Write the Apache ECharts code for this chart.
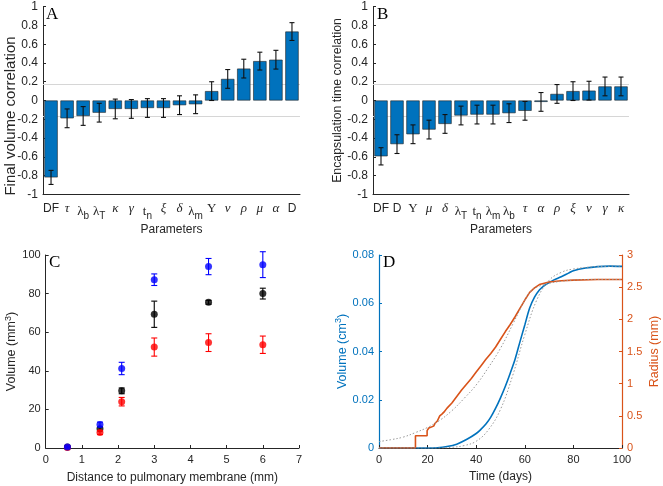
<!DOCTYPE html>
<html>
<head>
<meta charset="utf-8">
<script src="https://cdn.jsdelivr.net/npm/echarts@6/dist/echarts.min.js"></script>
<style>html,body{margin:0;padding:0;background:#fff}#c{width:663px;height:486px}</style>
</head>
<body>
<div id="c"></div>
<script>
// ---- Panel A ----
const catsA = ['DF','τ','λ_b','λ_T','κ','γ','t_n','ξ','δ','λ_m','Υ','ν','ρ','μ','α','D'];
const valsA = [-0.82,-0.19,-0.165,-0.13,-0.09,-0.09,-0.08,-0.08,-0.05,-0.04,0.10,0.23,0.34,0.42,0.435,0.735];
const errA  = [0.075,0.10,0.10,0.10,0.105,0.10,0.10,0.10,0.10,0.10,0.10,0.10,0.10,0.095,0.10,0.095];
// ---- Panel B ----
const catsB = ['DF','D','Υ','μ','δ','λ_T','t_n','λ_m','λ_b','τ','α','ρ','ξ','ν','γ','κ'];
const valsB = [-0.595,-0.465,-0.36,-0.31,-0.25,-0.16,-0.15,-0.15,-0.135,-0.11,-0.015,0.07,0.10,0.105,0.15,0.15];
const errB  = [0.092,0.10,0.10,0.10,0.10,0.10,0.10,0.10,0.10,0.10,0.10,0.10,0.10,0.10,0.10,0.10];
const threshold = 0.165;
// ---- Panel C ----
const distC = [0.6,1.5,2.1,3,4.5,6];
const blueC = [0.5,12.2,41.2,87.2,94.0,95.0];
const blueErrC = [0.5,1.2,3.2,3.0,4.2,6.7];
const blackC = [0.5,10.0,29.6,69.3,75.5,80.0];
const blackErrC = [0.3,1.0,1.5,6.8,1.0,2.8];
const redC = [0.3,8.0,24.0,52.3,54.6,53.5];
const redErrC = [0.3,1.0,2.2,4.7,4.6,4.5];
// ---- Panel D ----
const volDays = [0,20,24,28,32,36,40,42,44,46,48,50,52,54,56,58,60,62,64,66,68,70,72,75,78,80,85,90,95,100];
const volVals = [0,0,0.0001,0.0006,0.0016,0.0035,0.006,0.0078,0.0099,0.0128,0.0165,0.0208,0.0256,0.031,0.0368,0.044,0.051,0.058,0.0625,0.0655,0.0673,0.0686,0.0697,0.071,0.0725,0.0735,0.0746,0.0752,0.0754,0.0753];
const radDays = [0,15,15,19.8,19.8,20.5,21,22.5,23,24,25,26,27,28,30,32,34,36,38,40,42,44,46,48,50,52,54,56,58,60,62,64,66,68,70,75,80,90,100];
const radVals = [0,0,0.19,0.19,0.27,0.31,0.33,0.34,0.38,0.42,0.50,0.53,0.57,0.62,0.70,0.80,0.90,0.99,1.08,1.18,1.28,1.38,1.47,1.57,1.69,1.81,1.92,2.04,2.17,2.30,2.42,2.49,2.54,2.56,2.58,2.60,2.61,2.62,2.62];
const volFitDays = [0,25,30,35,40,45,50,55,60,65,70,75,80,90,100];
const volFitVals = [0,0,0.0003,0.001,0.0028,0.0075,0.016,0.030,0.047,0.0615,0.0695,0.0728,0.0742,0.0752,0.0754];
const radFitDays = [0,5,10,15,20,25,30,35,40,45,50,55,58,60,62,65,70,75,80,90,100];
const radFitVals = [0.10,0.13,0.17,0.24,0.32,0.43,0.58,0.77,0.98,1.25,1.55,1.92,2.15,2.30,2.42,2.50,2.56,2.59,2.61,2.62,2.62];

const TXT = '#262626';
const SANS = 'Liberation Sans';
const BLUE = '#0072BD', ORANGE = '#D95319';

function catFmt(s){
  if (s.indexOf('_') >= 0){ const p = s.split('_'); return '{l|' + p[0] + '}{s|' + p[1] + '}'; }
  if ('τκγξδνρμα'.indexOf(s) >= 0) return '{g|' + s + '}';
  if (s === 'Υ') return '{u|' + s + '}';
  return '{n|' + s + '}';
}
const catRich = {
  n: {fontFamily: SANS, fontSize: 12, color: TXT},
  l: {fontFamily: 'Liberation Serif', fontSize: 13, color: TXT},
  g: {fontFamily: 'Liberation Serif', fontStyle: 'italic', fontSize: 13, color: TXT},
  u: {fontFamily: 'Liberation Serif', fontSize: 13, color: TXT},
  s: {fontFamily: SANS, fontSize: 10, color: TXT, padding: [9,0,0,0]}
};

function tickLbl(color, size){ return {fontFamily: SANS, fontSize: size || 11, color: color || TXT, margin: 5}; }
function nameStyle(color, size){ return {fontFamily: SANS, fontSize: size || 12, color: color || TXT}; }

function catAxis(grid, cats){
  return {type: 'category', gridIndex: grid, data: cats, position: 'bottom',
    name: 'Parameters', nameLocation: 'middle', nameGap: 29, nameTextStyle: nameStyle(TXT, 12),
    axisLine: {onZero: false, lineStyle: {color: TXT, width: 1}},
    axisTick: {inside: true, length: 3, alignWithLabel: true, lineStyle: {color: TXT}},
    axisLabel: {interval: 0, margin: 8, formatter: catFmt, rich: catRich},
    splitLine: {show: false}};
}
function corrAxis(grid, name, size, gap){
  return {type: 'value', gridIndex: grid, min: -1, max: 1, interval: 0.2,
    name: name, nameLocation: 'middle', nameGap: gap, nameTextStyle: nameStyle(TXT, size),
    axisLine: {show: true, lineStyle: {color: TXT}},
    axisTick: {show: true, inside: true, length: 3, lineStyle: {color: TXT}},
    axisLabel: tickLbl(TXT, 12), splitLine: {show: false}};
}
function barSeries(xi, yi, vals){
  return {type: 'bar', xAxisIndex: xi, yAxisIndex: yi, data: vals, barWidth: '83%',
    itemStyle: {color: BLUE, borderColor: '#222', borderWidth: 0.6}, z: 2,
    markLine: {silent: true, symbol: 'none', z: 1, label: {show: false},
      lineStyle: {color: '#d6d6d6', type: 'solid', width: 1},
      data: [{yAxis: threshold}, {yAxis: -threshold}]}};
}
function errBarData(vals, errs){ return vals.map((v,i) => [i, v - errs[i], v + errs[i]]); }
function errSeries(xi, yi, data, color, cap, z){
  return {type: 'custom', xAxisIndex: xi, yAxisIndex: yi, data: data, z: z || 3, silent: true,
    renderItem: function(params, api){
      const x = api.value(0);
      const lo = api.coord([x, api.value(1)]);
      const hi = api.coord([x, api.value(2)]);
      const st = {stroke: color, lineWidth: 1.1};
      return {type: 'group', children: [
        {type: 'line', shape: {x1: lo[0], y1: lo[1], x2: hi[0], y2: hi[1]}, style: st},
        {type: 'line', shape: {x1: lo[0]-cap, y1: lo[1], x2: lo[0]+cap, y2: lo[1]}, style: st},
        {type: 'line', shape: {x1: hi[0]-cap, y1: hi[1], x2: hi[0]+cap, y2: hi[1]}, style: st}
      ]};
    }};
}
function xyErr(xs, ys, es){ return xs.map((x,i) => [x, ys[i]-es[i], ys[i]+es[i]]); }
function pairs(xs, ys){ return xs.map((x,i) => [x, ys[i]]); }
const supRich = (color) => ({sup: {fontFamily: SANS, fontSize: 9, color: color, padding: [0,0,7,0]}});

const option = {
  animation: false,
  backgroundColor: '#fff',
  grid: [
    {left: 43, top: 6.7, width: 257, height: 187.6},
    {left: 373, top: 6.7, width: 256, height: 187.6},
    {left: 45.7, top: 255, width: 253.3, height: 193},
    {left: 379, top: 255, width: 243, height: 193}
  ],
  xAxis: [
    catAxis(0, catsA),
    catAxis(1, catsB),
    {type: 'value', gridIndex: 2, min: 0, max: 7, interval: 1,
      name: 'Distance to pulmonary membrane (mm)', nameLocation: 'middle', nameGap: 24, nameTextStyle: nameStyle(),
      axisLine: {onZero: false, lineStyle: {color: TXT}},
      axisTick: {inside: true, length: 3, lineStyle: {color: TXT}},
      axisLabel: Object.assign(tickLbl(), {margin: 6}), splitLine: {show: false}},
    {type: 'value', gridIndex: 3, min: 0, max: 100, interval: 20,
      name: 'Time (days)', nameLocation: 'middle', nameGap: 23, nameTextStyle: nameStyle(),
      axisLine: {onZero: false, lineStyle: {color: TXT}},
      axisTick: {inside: true, length: 3, lineStyle: {color: TXT}},
      axisLabel: Object.assign(tickLbl(), {margin: 6}), splitLine: {show: false}}
  ],
  yAxis: [
    corrAxis(0, '', 14.5, 24),
    corrAxis(1, 'Encapsulation time correlation', 12.3, 21),
    {type: 'value', gridIndex: 2, min: 0, max: 100, interval: 20,
      name: 'Volume (mm{sup|3})', nameLocation: 'middle', nameGap: 23,
      nameTextStyle: Object.assign(nameStyle(TXT, 12.5), {rich: supRich(TXT)}),
      axisLine: {show: true, lineStyle: {color: TXT}},
      axisTick: {show: true, inside: true, length: 3, lineStyle: {color: TXT}},
      axisLabel: tickLbl(), splitLine: {show: false}},
    {type: 'value', gridIndex: 3, min: 0, max: 0.08, interval: 0.02, position: 'left',
      name: 'Volume (cm{sup|3})', nameLocation: 'middle', nameGap: 28,
      nameTextStyle: Object.assign(nameStyle(BLUE, 12.5), {rich: supRich(BLUE)}),
      axisLine: {show: true, lineStyle: {color: BLUE, width: 1.2}},
      axisTick: {show: true, inside: true, length: 3, lineStyle: {color: BLUE}},
      axisLabel: tickLbl(BLUE), splitLine: {show: false}},
    {type: 'value', gridIndex: 3, min: 0, max: 3, interval: 0.5, position: 'right',
      name: 'Radius (mm)', nameLocation: 'middle', nameGap: 26, nameTextStyle: nameStyle(ORANGE, 12.5),
      axisLine: {show: true, lineStyle: {color: ORANGE, width: 1.2}},
      axisTick: {show: true, inside: true, length: 3, lineStyle: {color: ORANGE}},
      axisLabel: tickLbl(ORANGE), splitLine: {show: false}}
  ],
  series: [
    barSeries(0, 0, valsA),
    errSeries(0, 0, errBarData(valsA, errA), '#111', 2.5),
    barSeries(1, 1, valsB),
    errSeries(1, 1, errBarData(valsB, errB), '#111', 2.5),
    // Panel C
    errSeries(2, 2, xyErr(distC, blackC, blackErrC), '#000', 3, 3),
    {type: 'scatter', xAxisIndex: 2, yAxisIndex: 2, data: pairs(distC, blackC), symbolSize: 7, itemStyle: {color: '#000'}, z: 4},
    errSeries(2, 2, xyErr(distC, redC, redErrC), '#ff0000', 3, 5),
    {type: 'scatter', xAxisIndex: 2, yAxisIndex: 2, data: pairs(distC, redC), symbolSize: 7, itemStyle: {color: '#ff0000'}, z: 6},
    errSeries(2, 2, xyErr(distC, blueC, blueErrC), '#0000ff', 3, 7),
    {type: 'scatter', xAxisIndex: 2, yAxisIndex: 2, data: pairs(distC, blueC), symbolSize: 7, itemStyle: {color: '#0000ff'}, z: 8},
    // Panel D
    {type: 'line', xAxisIndex: 3, yAxisIndex: 3, data: pairs(volDays, volVals), showSymbol: false, smooth: 0.3,
      lineStyle: {color: BLUE, width: 1.6}, z: 3},
    {type: 'line', xAxisIndex: 3, yAxisIndex: 4, data: pairs(radDays, radVals), showSymbol: false,
      lineStyle: {color: ORANGE, width: 1.6}, z: 3},
    {type: 'line', xAxisIndex: 3, yAxisIndex: 3, data: pairs(volFitDays, volFitVals), showSymbol: false, smooth: 0.4,
      lineStyle: {color: '#999', width: 1, type: [1.5, 2]}, z: 4},
    {type: 'line', xAxisIndex: 3, yAxisIndex: 4, data: pairs(radFitDays, radFitVals), showSymbol: false, smooth: 0.4,
      lineStyle: {color: '#999', width: 1, type: [1.5, 2]}, z: 4}
  ],
  graphic: [
    {type: 'text', x: 11, y: 116, rotation: Math.PI / 2,
      style: {text: 'Final volume correlation', fontFamily: SANS, fontSize: 15, fill: TXT, align: 'center', verticalAlign: 'middle'}},
    {type: 'text', left: 46, top: 6, style: {text: 'A', fontFamily: 'Liberation Serif', fontSize: 17, fill: '#000'}},
    {type: 'text', left: 377, top: 6, style: {text: 'B', fontFamily: 'Liberation Serif', fontSize: 17, fill: '#000'}},
    {type: 'text', left: 49, top: 254, style: {text: 'C', fontFamily: 'Liberation Serif', fontSize: 17, fill: '#000'}},
    {type: 'text', left: 383, top: 254, style: {text: 'D', fontFamily: 'Liberation Serif', fontSize: 17, fill: '#000'}}
  ]
};
const chart = echarts.init(document.getElementById('c'), null, {renderer: 'canvas'});
chart.setOption(option);
</script>
</body>
</html>
